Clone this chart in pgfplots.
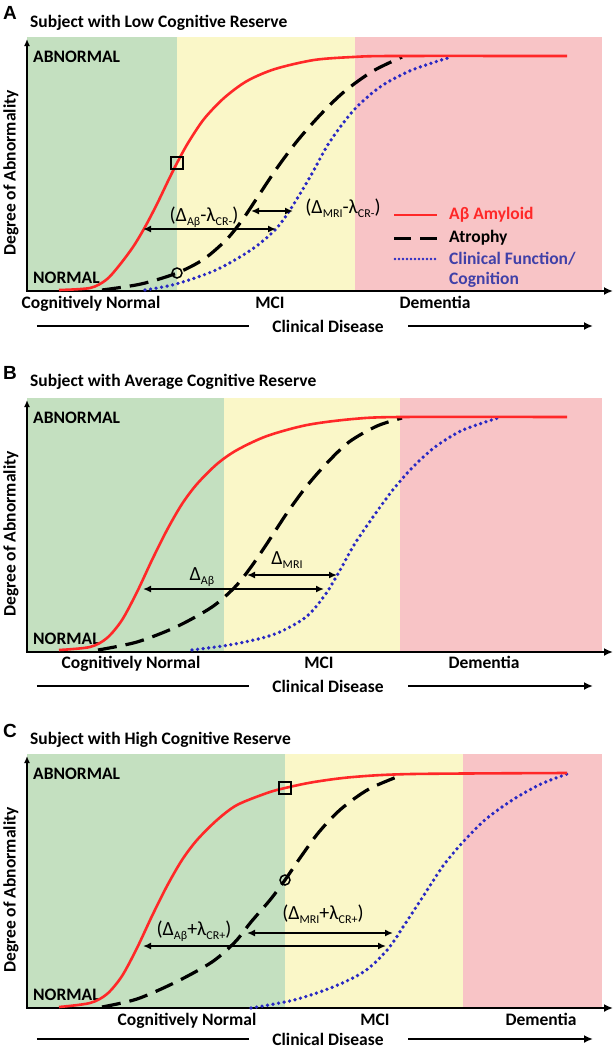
\documentclass[border=0pt]{standalone}
\usepackage{fontspec}
\setmainfont{Carlito}
\newfontfamily\letterfont{Liberation Sans}
\usepackage{pgfplots}
\pgfplotsset{compat=1.18}
\usetikzlibrary{arrows.meta}

\definecolor{bgG}{RGB}{196,224,192}
\definecolor{bgY}{RGB}{250,247,200}
\definecolor{bgR}{RGB}{248,196,198}
\definecolor{amy}{RGB}{255,40,40}
\definecolor{cogblue}{RGB}{40,40,195}
\definecolor{legblue}{RGB}{64,64,168}

\newcommand{\sub}[1]{\raisebox{-0.45ex}{\fontsize{12}{12}\selectfont #1}}
\newcommand{\lbl}{\fontsize{17.5}{19}\selectfont\bfseries}

\pgfplotsset{
  panel/.style={scale only axis, width=575pt, height=254pt,
    xmin=0, xmax=575, ymin=0, ymax=254, axis lines=none, clip=false,
    anchor=south west},
  amyloid/.style={amy, line width=2.6pt, smooth},
  atrophy/.style={black, line width=3.2pt, smooth, dash pattern=on 19pt off 9pt},
  clinical/.style={cogblue, line width=3.7pt, smooth, dash pattern=on 0pt off 5.6pt, line cap=round},
  box/.style={only marks, mark=square, mark size=6pt, mark options={black, line width=1.5pt, fill=none, solid}},
  ring/.style={only marks, mark=o, mark size=5pt, mark options={black, line width=1.5pt, solid}},
}
\tikzset{dbl/.style={{Latex[length=8pt,width=7pt]}-{Latex[length=8pt,width=7pt]}, line width=1.9pt}}

% backgrounds, axes and the fixed texts of one panel
\newcommand{\frameparts}[3]{%
  \fill[bgG] (axis cs:0,0) rectangle (axis cs:#1,254);
  \fill[bgY] (axis cs:#1,0) rectangle (axis cs:#2,254);
  \fill[bgR] (axis cs:#2,0) rectangle (axis cs:575,254);
  \draw[line width=2pt, -{Latex[length=7pt,width=6pt]}] (axis cs:0,0) -- (axis cs:0,252);
  \draw[line width=2.6pt, -{Latex[length=9pt,width=8pt]}] (axis cs:-1,0) -- (axis cs:586,0);
  \node[anchor=west, font=\lbl] at (axis cs:6,234) {ABNORMAL};
  \node[anchor=west, font=\lbl] at (axis cs:6,13) {NORMAL};
  \node[rotate=90, font=\lbl] at (axis cs:-16,118) {Degree of Abnormality};
  \node[anchor=base, font=\lbl] at (axis cs:301,#3) {Clinical Disease};
  \draw[line width=2.6pt] (axis cs:10,#3+6) -- (axis cs:222,#3+6);
  \draw[line width=2.6pt, -{Latex[length=9pt,width=8pt]}] (axis cs:381,#3+6) -- (axis cs:566,#3+6);
}

\begin{document}
\begin{tikzpicture}[every node/.style={inner sep=0pt}]

% ---------------- A ----------------
\begin{axis}[panel, at={(27pt,-291pt)}]
\frameparts{150}{328}{-41}
\node[anchor=base west, font={\fontsize{19}{19}\letterfont\bfseries}] at (axis cs:-24,272) {A};
\node[anchor=base west, font=\lbl] at (axis cs:3,264) {Subject with Low Cognitive Reserve};
\node[anchor=base, font=\lbl] at (axis cs:64,-17) {Cognitively Normal};
\node[anchor=base, font=\lbl] at (axis cs:243,-17) {MCI};
\node[anchor=base, font=\lbl] at (axis cs:408,-17) {Dementia};
\addplot[clinical] coordinates {
  (118,1) (149,7) (189,21) (224,41) (248,61) (263,81) (283,114) (302,148)
  (326,180) (353,204) (385,221) (424,234)};
\addplot[atrophy] coordinates {
  (75,1) (114,7) (150,18) (177,32) (200,52) (216,72) (230,93) (250,123)
  (271,151) (295,178) (318,200) (346,220) (375,234)};
\addplot[amyloid] coordinates {
  (32,1) (63,3) (79,11) (91,24) (106,44) (118,64) (130,87) (142,112) (150,128)
  (161,148) (177,172) (197,193) (220,210) (248,222) (287,231) (326,234)
  (365,235) (540,235)};
\addplot[box] coordinates {(150,128)};
\addplot[ring] coordinates {(150,18)};
\draw[dbl] (axis cs:116,62) -- (axis cs:249,62);
\draw[dbl] (axis cs:224,80) -- (axis cs:266,80);
\node[font=\fontsize{20}{20}\selectfont] at (axis cs:177,74) {(Δ\sub{Aβ}-λ\sub{CR-})};
\node[font=\fontsize{20}{20}\selectfont] at (axis cs:316,83) {(Δ\sub{MRI}-λ\sub{CR-})};
% legend
\draw[amy, line width=2.5pt] (axis cs:367,76) -- (axis cs:410,76);
\draw[black, line width=3pt, dash pattern=on 17pt off 9pt] (axis cs:367,53) -- (axis cs:410,53);
\draw[cogblue, line width=2.6pt, dash pattern=on 0pt off 4pt, line cap=round] (axis cs:368,32) -- (axis cs:410,32);
\node[anchor=west, font=\lbl, text=amy] at (axis cs:422,76) {Aβ Amyloid};
\node[anchor=west, font=\lbl] at (axis cs:422,53) {Atrophy};
\node[anchor=west, font=\lbl, text=legblue] at (axis cs:422,32) {Clinical Function/};
\node[anchor=west, font=\lbl, text=legblue] at (axis cs:422,11) {Cognition};
\end{axis}

% ---------------- B ----------------
\begin{axis}[panel, at={(27pt,-652pt)}]
\frameparts{197}{373}{-40}
\node[anchor=base west, font={\fontsize{19}{19}\letterfont\bfseries}] at (axis cs:-24,273) {B};
\node[anchor=base west, font=\lbl] at (axis cs:3,266) {Subject with Average Cognitive Reserve};
\node[anchor=base, font=\lbl] at (axis cs:104,-16) {Cognitively Normal};
\node[anchor=base, font=\lbl] at (axis cs:292,-16) {MCI};
\node[anchor=base, font=\lbl] at (axis cs:457,-16) {Dementia};
\addplot[clinical] coordinates {
  (165,2) (208,8) (248,18) (279,35) (298,57) (312,80) (327,107) (346,135)
  (365,161) (385,184) (408,205) (436,222) (471,234)};
\addplot[atrophy] coordinates {
  (71,2) (110,10) (149,25) (185,45) (208,65) (224,85) (241,110) (260,139)
  (279,165) (299,188) (322,210) (350,226) (375,234)};
\addplot[amyloid] coordinates {
  (32,2) (63,5) (80,14) (95,32) (110,60) (125,92) (140,122) (155,148)
  (170,168) (190,188) (210,202) (240,216) (280,227) (326,233) (373,235) (540,235)};
\draw[dbl] (axis cs:116,63) -- (axis cs:297,63);
\draw[dbl] (axis cs:220,77) -- (axis cs:310,77);
\node[font=\fontsize{20}{20}\selectfont] at (axis cs:175,75) {Δ\sub{Aβ}};
\node[font=\fontsize{20}{20}\selectfont] at (axis cs:260,92) {Δ\sub{MRI}};
\end{axis}

% ---------------- C ----------------
\begin{axis}[panel, at={(27pt,-1008pt)}]
\frameparts{258}{436}{-37}
\node[anchor=base west, font={\fontsize{19}{19}\letterfont\bfseries}] at (axis cs:-24,271) {C};
\node[anchor=base west, font=\lbl] at (axis cs:3,264) {Subject with High Cognitive Reserve};
\node[anchor=base, font=\lbl] at (axis cs:160,-17) {Cognitively Normal};
\node[anchor=base, font=\lbl] at (axis cs:348,-17) {MCI};
\node[anchor=base, font=\lbl] at (axis cs:514,-17) {Dementia};
\addplot[clinical] coordinates {
  (224,0) (267,8) (306,21) (338,37) (361,59) (378,84) (397,113) (416,142)
  (436,166) (459,189) (487,209) (514,224) (540,234)};
\addplot[atrophy] coordinates {
  (75,1) (110,9) (149,26) (185,46) (208,66) (224,86) (243,108) (258,128)
  (273,150) (292,176) (314,199) (342,219) (375,233)};
\addplot[amyloid] coordinates {
  (32,1) (63,5) (80,14) (95,32) (110,60) (125,92) (140,122) (155,148)
  (170,168) (190,188) (210,203) (240,215) (258,220) (287,226) (326,231)
  (385,234) (540,235)};
\addplot[box] coordinates {(258,220)};
\addplot[ring] coordinates {(258,128)};
\draw[dbl] (axis cs:116,62) -- (axis cs:359,62);
\draw[dbl] (axis cs:220,75) -- (axis cs:366,75);
\node[font=\fontsize{20}{20}\selectfont] at (axis cs:167,77) {(Δ\sub{Aβ}+λ\sub{CR+})};
\node[font=\fontsize{20}{20}\selectfont] at (axis cs:296,94) {(Δ\sub{MRI}+λ\sub{CR+})};
\end{axis}

\pgfresetboundingbox
\useasboundingbox (0pt,0pt) rectangle (615pt,-1050pt);
\end{tikzpicture}
\end{document}
